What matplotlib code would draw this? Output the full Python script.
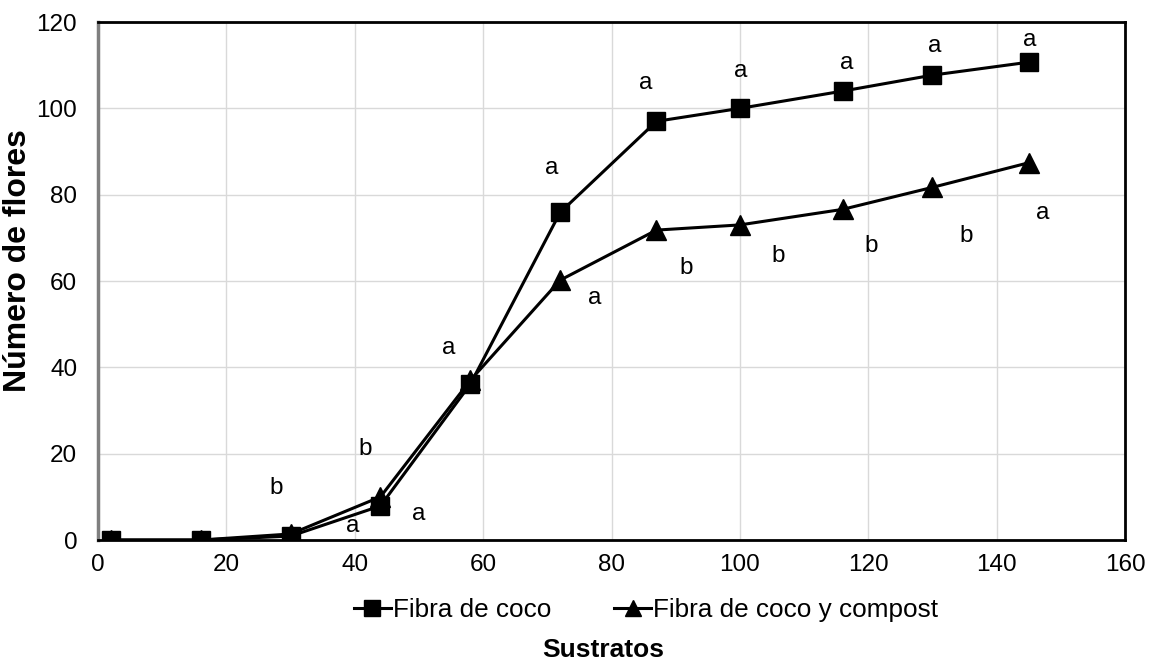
import numpy as np
import matplotlib.pyplot as plt

plt.rcParams['font.family'] = ['Liberation Sans', 'DejaVu Sans']

# data to plot
dias = [2, 16, 30, 44, 58, 72, 87, 100, 116, 130, 145]
fibra_coco = [0, 0, 0.9, 7.9, 36.1, 75.9, 97.0, 100.0, 104.0, 107.7, 110.7]
fibra_compost = [0, 0, 1.4, 10.0, 37.0, 60.2, 71.8, 73.0, 76.6, 81.7, 87.4]

# letras de significancia (texto, x, y)
letras = ['b', 'b', 'a', 'a', 'a', 'a', 'a', 'a', 'b', 'a', 'b', 'a', 'b', 'a', 'b', 'a', 'a']
letras_x = [27.7, 41.7, 39.6, 50.0, 54.7, 70.7, 77.4, 85.4, 91.6, 100.2, 106.0,
            116.7, 120.4, 130.4, 135.2, 145.2, 147.2]
letras_y = [12.0, 21.0, 3.2, 6.0, 44.5, 86.2, 56.0, 105.8, 63.0, 108.6, 65.8,
            110.6, 68.0, 114.4, 70.4, 115.8, 75.7]

fig = plt.figure(figsize=(11.56, 6.68), dpi=100)
ax = fig.add_axes([0.0848, 0.1916, 0.8884, 0.7754])

ax.plot(dias, fibra_coco, color='black', lw=2.2, marker='s', markersize=13,
        label='Fibra de coco', zorder=4)
ax.plot(dias, fibra_compost, color='black', lw=2.2, marker='^', markersize=14,
        label='Fibra de coco y compost', zorder=3)

for t, x, y in zip(letras, letras_x, letras_y):
    ax.text(x, y, t, fontsize=17.5, ha='center', va='center')

ax.set_xlim(0, 160)
ax.set_ylim(0, 120)
ax.set_xticks(np.arange(0, 161, 20))
ax.set_yticks(np.arange(0, 121, 20))
ax.tick_params(axis='both', length=0, labelsize=17.5)
ax.tick_params(axis='x', pad=10)
ax.tick_params(axis='y', pad=15)
ax.grid(True, color='#d9d9d9', lw=1)
ax.set_axisbelow(True)

for side in ['top', 'right', 'bottom']:
    ax.spines[side].set_color('black')
    ax.spines[side].set_linewidth(2)
ax.spines['left'].set_color('#7f7f7f')
ax.spines['left'].set_linewidth(2.5)

ax.set_ylabel('Número de flores', fontsize=23, fontweight='bold')
ax.yaxis.set_label_coords(-0.0635, 0.54)
fig.text(0.522, 0.027, 'Sustratos', fontsize=19, fontweight='bold', ha='center', va='center')

fig.legend(loc='center', bbox_to_anchor=(0.559, 0.087), ncol=2, frameon=False,
           fontsize=18.8, handlelength=1.4, handletextpad=0.1, columnspacing=2.4,
           markerscale=0.85)

plt.savefig('out.png', dpi=100)
